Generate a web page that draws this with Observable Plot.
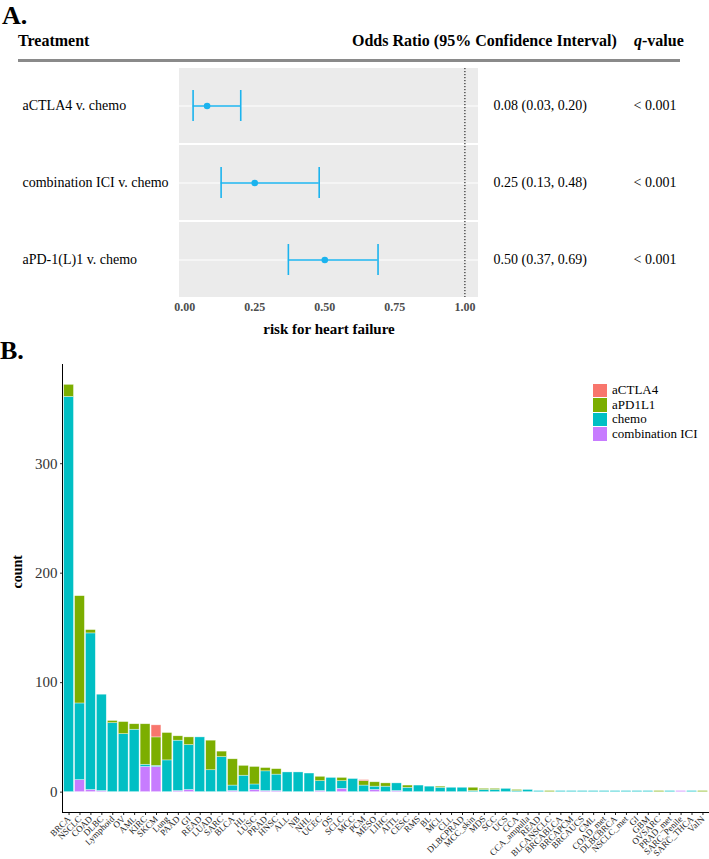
<!DOCTYPE html>
<html><head><meta charset="utf-8">
<script src="https://cdn.jsdelivr.net/npm/d3@7"></script>
<script src="https://cdn.jsdelivr.net/npm/@observablehq/plot@0.6"></script>
<style>
body{margin:0;background:#fff;font-family:"Liberation Serif","Times New Roman","DejaVu Serif",serif;}
#wrap{position:relative;width:709px;height:859px;overflow:hidden;background:#fff;}
.abs{position:absolute;white-space:nowrap;color:#000;}
.hdr{font-weight:bold;font-size:16px;line-height:16px;}
.lg{position:absolute;left:593px;font-size:13px;line-height:14.5px;}
.lg span{display:inline-block;width:14px;height:13.5px;margin-right:5px;vertical-align:top;margin-top:0.5px;}
</style></head><body><div id="wrap"></div>
<script>
// ---------- Panel A data ----------
const comparisons = ["aCTLA4 v. chemo", "combination ICI v. chemo", "aPD-1(L)1 v. chemo"];
const oddsRatio = [0.08, 0.25, 0.50];
const ciLow = [0.03, 0.13, 0.37];
const ciHigh = [0.20, 0.48, 0.69];
const orLabels = ["0.08 (0.03, 0.20)", "0.25 (0.13, 0.48)", "0.50 (0.37, 0.69)"];
const qLabels = ["< 0.001", "< 0.001", "< 0.001"];
const orTicks = [0, 0.25, 0.5, 0.75, 1];
const orMinorTicks = [0.125, 0.375, 0.625, 0.875];
const refLine = 1;

// ---------- Panel B data ----------
const cancers = ["BRCA","NSCLC","COAD","DLBC","Lymphoid","OV","AML","KIRC","SKCM","Lung",
  "PAAD","GI","READ","LUAD","SARC","BLCA","HL","LUSC","PRAD","HNSC",
  "ALL","NB","NHL","UCEC","OS","SCLC","MCC","PCM","MESO","LIHC",
  "AITL","CESC","RMS","BL","MCL","CLL","DLBCPRAD","MCC_skin","MDS","SCC",
  "UCS","CCA","CCA_ampulla","READ","BLCANSCLC","BRCABLCA","BRCAPCM","BRCAUCS","CML","COAD_met",
  "DLBCBRCA","NSCLC_met","GI","GBM","OVSARC","PRAD_met","SARC_Penile","SARC_THCA","VaIN"];
const countCTLA4 = [0,0,0,0,0,0,0,0,11,0, 0,0,0,0,0,0,0,0,0,0, 0,0,0,0,0,0,0,1,0,0, 0,0,0,0,0,0,0,0,0,0, 0,0,0,0,0,0,0,0,0,0, 0,0,0,0,0,0,0,0,0];
const countPD1L1 = [11,98,3,0,2,11,5,37,26,25, 4,7,0,27,5,24,9,16,3,5, 0,0,0,4,0,3,0,4,4,3, 0,2,0,0,1,0,0,3,1,1, 0,1,0,0,1,0,0,0,0,0, 0,0,0,0,1,0,0,0,1];
const countChemo = [361,70,143,88,63,53,57,2,1,29, 46,41,50,20,32,5,15,5,18,15, 18,18,17,9,13,7,12,6,3,5, 7,4,6,5,4,4,4,1,2,2, 3,1,2,1,0,1,1,1,1,1, 1,1,1,1,0,1,0,1,0];
const countCombo = [0,11,2,1,0,0,0,23,23,0, 1,2,0,0,0,1,0,2,1,1, 0,0,0,1,0,3,0,0,2,0, 1,0,0,0,0,0,0,0,0,0, 0,0,0,0,0,0,0,0,0,0, 0,0,0,0,0,0,1,0,0];
const treatments = ["aCTLA4", "aPD1L1", "chemo", "combination ICI"];
const treatmentColors = ["#F8766D", "#7CAE00", "#00BFC4", "#C77CFF"];
const countTicks = [0, 100, 200, 300];

const serif = "'Liberation Serif', 'Times New Roman', 'DejaVu Serif', serif";
const wrap = document.getElementById("wrap");
function addDiv(html, css, cls = "abs") {
  const d = document.createElement("div");
  d.className = cls; d.innerHTML = html; Object.assign(d.style, css); wrap.appendChild(d); return d;
}

// ---------- Panel A ----------
const rowsA = comparisons.map((c, i) => ({c, or: oddsRatio[i], lo: ciLow[i], hi: ciHigh[i], orText: orLabels[i], q: qLabels[i]}));
const xLo = Math.min(...ciLow, refLine), xHi = Math.max(...ciHigh, refLine);
const xPad = (xHi - xLo) * 0.05;
const xDomA = [xLo - xPad, xHi + xPad];
const gridMajor = comparisons.flatMap(c => orTicks.map(v => ({c, v})));
const gridMinor = comparisons.flatMap(c => orMinorTicks.map(v => ({c, v})));
const blue = "#1BB3EE";

const plotA = Plot.plot({
  width: 709, height: 340,
  marginTop: 68, marginBottom: 43, marginLeft: 179, marginRight: 231,
  style: {fontFamily: serif, fontSize: "14px", color: "#000", background: "transparent"},
  x: {domain: xDomA},
  y: {type: "band", domain: comparisons, paddingInner: 0.03, paddingOuter: 0, axis: null},
  marks: [
    Plot.barX(comparisons, {y: d => d, x1: xDomA[0], x2: xDomA[1], fill: "#EBEBEB"}),
    Plot.ruleX(gridMinor, {x: "v", y: "c", stroke: "#fff", strokeWidth: 0.6}),
    Plot.ruleX(gridMajor, {x: "v", y: "c", stroke: "#fff", strokeWidth: 1.2}),
    Plot.ruleY(comparisons, {y: d => d, x1: xDomA[0], x2: xDomA[1], stroke: "#fff", strokeWidth: 1.2}),
    Plot.ruleX([refLine], {stroke: "#000", strokeDasharray: "1.2,1.8", strokeWidth: 1}),
    Plot.ruleY(rowsA, {y: "c", x1: "lo", x2: "hi", stroke: blue, strokeWidth: 1.6}),
    Plot.tickX(rowsA, {x: "lo", y: "c", stroke: blue, strokeWidth: 1.6, insetTop: 22, insetBottom: 22}),
    Plot.tickX(rowsA, {x: "hi", y: "c", stroke: blue, strokeWidth: 1.6, insetTop: 22, insetBottom: 22}),
    Plot.dot(rowsA, {x: "or", y: "c", r: 3.3, fill: blue}),
    Plot.text(rowsA, {y: "c", text: "c", frameAnchor: "left", dx: -157, textAnchor: "start", fontSize: 14}),
    Plot.text(rowsA, {y: "c", text: "orText", frameAnchor: "right", dx: 15, textAnchor: "start", fontSize: 14}),
    Plot.text(rowsA, {y: "c", text: "q", frameAnchor: "right", dx: 155, textAnchor: "start", fontSize: 14}),
    Plot.axisX({ticks: orTicks, tickFormat: d3.format(".2f"), tickSize: 0, tickPadding: 5, fontWeight: "bold", color: "#4D4D4D", fontSize: 12, label: null}),
    Plot.text(["risk for heart failure"], {text: d => d, frameAnchor: "bottom", dy: 36, fontWeight: "bold", fontSize: 15})
  ]
});
plotA.style.position = "absolute"; plotA.style.left = "0px"; plotA.style.top = "0px";
wrap.appendChild(plotA);

addDiv("A.", {left: "2px", top: "3px", fontSize: "26px", fontWeight: "bold", lineHeight: "26px"});
addDiv("Treatment", {left: "18px", top: "33px"}, "abs hdr");
addDiv("Odds Ratio (95% Confidence Interval)", {left: "352px", top: "33px"}, "abs hdr");
addDiv("<i>q</i>-value", {left: "634px", top: "33px"}, "abs hdr");
addDiv("", {left: "18px", top: "59px", width: "662px", height: "2.5px", background: "#8a8a8a"});

// ---------- Panel B ----------
const stackSeries = [
  {t: "combination ICI", v: countCombo},
  {t: "chemo", v: countChemo},
  {t: "aPD1L1", v: countPD1L1},
  {t: "aCTLA4", v: countCTLA4}
];
const rowsB = cancers.flatMap((name, i) => stackSeries.map(s => ({i, name, t: s.t, n: s.v[i]}))).filter(d => d.n > 0);
const totals = cancers.map((_, i) => stackSeries.reduce((a, s) => a + s.v[i], 0));
const yMax = d3.max(totals);
const yDomB = [-yMax * 0.05, yMax * 1.05];

const plotB = Plot.plot({
  width: 709, height: 519,
  marginTop: 24, marginBottom: 47, marginLeft: 62, marginRight: 0,
  style: {fontFamily: serif, color: "#000", background: "transparent"},
  x: {type: "band", domain: d3.range(cancers.length), paddingInner: 0.1, paddingOuter: 0.15},
  y: {domain: yDomB},
  color: {domain: treatments, range: treatmentColors},
  marks: [
    Plot.barY(rowsB, {x: "i", y: "n", fill: "t", stroke: "#fff", strokeWidth: 0.6, strokeOpacity: 0.6}),
    Plot.axisY({ticks: countTicks, tickSize: 2, tickPadding: 3, fontSize: 15, color: "#333", label: null}),
    Plot.axisX({tickFormat: i => cancers[i], tickRotate: -45, tickSize: 3, tickPadding: 2, fontSize: 9, color: "#222", label: null}),
    Plot.frame({anchor: "left", stroke: "#000"}),
    Plot.frame({anchor: "bottom", stroke: "#000"}),
    Plot.text(["count"], {text: d => d, frameAnchor: "left", dx: -45, rotate: -90, fontWeight: "bold", fontSize: 14})
  ]
});
plotB.style.position = "absolute"; plotB.style.left = "0px"; plotB.style.top = "340px";
wrap.appendChild(plotB);

addDiv("B.", {left: "0px", top: "338px", fontSize: "26px", fontWeight: "bold", lineHeight: "26px"});

const lg = addDiv(treatments.map((t, i) => `<div><span style="background:${treatmentColors[i]}"></span>${t}</div>`).join(""), {top: "383px"}, "lg");
</script>
</body></html>
